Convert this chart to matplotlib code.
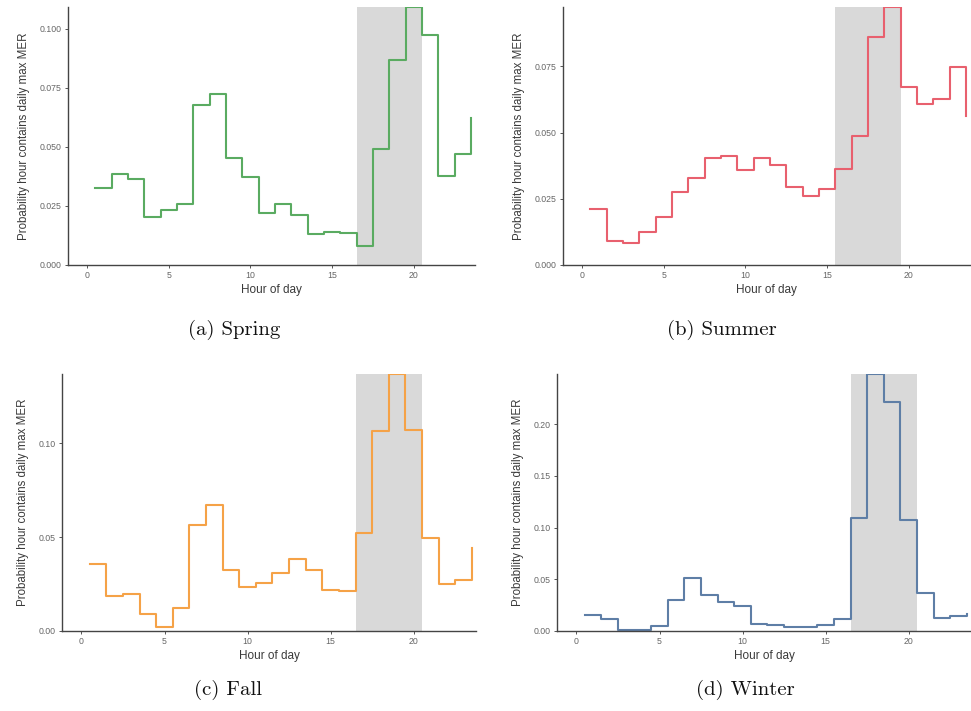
import matplotlib
matplotlib.use("Agg")
import matplotlib.pyplot as plt
import numpy as np

hours = np.arange(24) + 0.5

spring = [0.0325, 0.0385, 0.0364, 0.0204, 0.0232, 0.0260, 0.0679, 0.0726,
          0.0454, 0.0373, 0.0222, 0.0260, 0.0212, 0.0130, 0.0139, 0.0136,
          0.0081, 0.0490, 0.0870, 0.1093, 0.0976, 0.0375, 0.0471, 0.0622]
summer = [0.0211, 0.0092, 0.0083, 0.0124, 0.0180, 0.0275, 0.0328, 0.0405,
          0.0413, 0.0357, 0.0403, 0.0378, 0.0294, 0.0261, 0.0286, 0.0363,
          0.0488, 0.0860, 0.0974, 0.0673, 0.0608, 0.0628, 0.0748, 0.0561]
fall = [0.0356, 0.0187, 0.0199, 0.0093, 0.0021, 0.0125, 0.0564, 0.0674,
        0.0327, 0.0235, 0.0256, 0.0311, 0.0384, 0.0327, 0.0221, 0.0212,
        0.0520, 0.1066, 0.1370, 0.1071, 0.0496, 0.0253, 0.0270, 0.0443]
winter = [0.0155, 0.0119, 0.0006, 0.0006, 0.0048, 0.0300, 0.0516, 0.0345,
          0.0280, 0.0242, 0.0068, 0.0055, 0.0042, 0.0042, 0.0055, 0.0113,
          0.1094, 0.2487, 0.2220, 0.1071, 0.0371, 0.0129, 0.0148, 0.0165]

captions = ["(a) Spring", "(b) Summer", "(c) Fall", "(d) Winter"]
series = [spring, summer, fall, winter]
colors = ["#5aab61", "#e8606e", "#f5a247", "#5e7ea6"]
shade = [(16.5, 20.5), (15.5, 19.5), (16.5, 20.5), (16.5, 20.5)]
yticks = [[0, 0.025, 0.05, 0.075, 0.1],
          [0, 0.025, 0.05, 0.075],
          [0, 0.05, 0.10],
          [0, 0.05, 0.10, 0.15, 0.20]]
yfmt = ["{:.3f}", "{:.3f}", "{:.2f}", "{:.2f}"]
xticks = [0, 5, 10, 15, 20]

W, H = 971, 711
fig = plt.figure(figsize=(W / 100, H / 100), dpi=100)

# axes rectangles in pixels: left, top, width, height
rects = [(68, 7, 407, 258), (563, 7, 407, 258),
         (62, 374, 414, 257), (557, 374, 414, 257)]
cap_pos = [(234, 330), (722, 330), (228, 690), (745, 690)]

tick_col = "#666666"
for i in range(4):
    l, t, w, h = rects[i]
    ax = fig.add_axes([l / W, 1 - (t + h) / H, w / W, h / H])
    vals = series[i]
    ax.axvspan(shade[i][0], shade[i][1], color="#d9d9d9", lw=0, zorder=0)
    ax.step(hours, vals, where="post", color=colors[i], lw=1.5, zorder=2)
    ax.set_xlim(-1.17, 23.75)
    ax.set_ylim(0, max(vals))
    ax.set_xticks(xticks)
    ax.set_yticks(yticks[i])
    ax.set_yticklabels([yfmt[i].format(v) for v in yticks[i]])
    for s in ["top", "right"]:
        ax.spines[s].set_visible(False)
    for s in ["left", "bottom"]:
        ax.spines[s].set_color("#444444")
        ax.spines[s].set_linewidth(1.0)
    ax.tick_params(axis="both", length=2.5, width=0.7, color="#555555",
                   labelsize=6.3, labelcolor=tick_col, pad=2)
    for lab in ax.get_xticklabels() + ax.get_yticklabels():
        lab.set_family("Liberation Sans")
    ax.set_xlabel("Hour of day", fontsize=8.5, color="#3a3a3a",
                  family="Liberation Sans", labelpad=3)
    ax.set_ylabel("Probability hour contains daily max MER", fontsize=8.3,
                  color="#3a3a3a", family="Liberation Sans", labelpad=7)
    ax.set_facecolor("white")
    cx, cy = cap_pos[i]
    fig.text(cx / W, 1 - cy / H, captions[i], ha="center", va="center",
             fontsize=15, family="cmr10", color="#111111")

fig.savefig("out.png", dpi=100, facecolor="white")
